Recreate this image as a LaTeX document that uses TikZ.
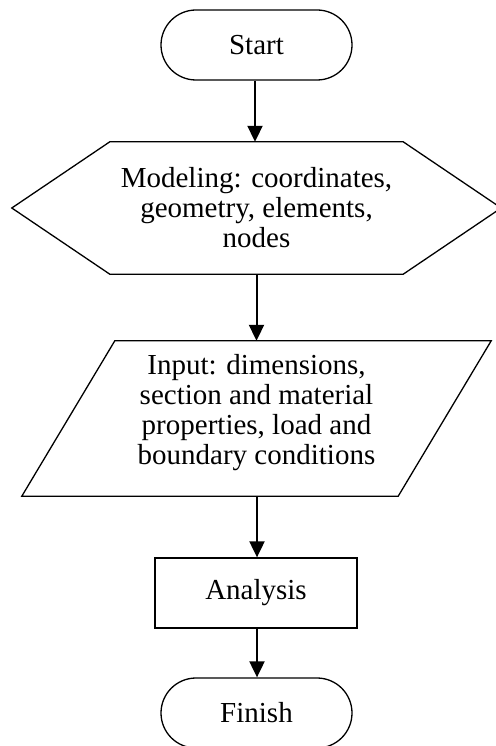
\documentclass[tikz,border=0pt]{standalone}
\usepackage{fontspec}
\setmainfont{Liberation Serif}
\usetikzlibrary{shapes.misc,arrows.meta}
\begin{document}
\begin{tikzpicture}[x=1pt,y=-1pt,
  every node/.style={font=\fontsize{29}{30}\selectfont, align=center, inner sep=0pt},
  shapeline/.style={line width=1.3pt},
  term/.style={rounded rectangle, draw, shapeline, minimum width=191pt, minimum height=70pt},
  procbox/.style={rectangle, draw, shapeline, minimum width=202pt, minimum height=70pt},
  frame/.style={draw=none, rectangle},
  flow/.style={line width=2pt, -{Triangle[length=16pt,width=15pt]}}
]
\useasboundingbox (0,0) rectangle (495,746);

% Start
\node[term] (start) at (256.5,45) {Start};

% Modeling (hexagon)
\node[frame, minimum width=489pt, minimum height=132pt] (model) at (256.5,208)
  {Modeling: coordinates,\\geometry, elements,\\nodes};
\draw[shapeline, line join=miter] (model.west) -- ([xshift=98pt]model.north west)
  -- ([xshift=-98pt]model.north east) -- (model.east)
  -- ([xshift=-98pt]model.south east) -- ([xshift=98pt]model.south west) -- cycle;

% Input (parallelogram)
\node[frame, minimum width=469pt, minimum height=155pt] (input) at (256.5,418.5) {};
\draw[shapeline, line join=miter] ([xshift=93pt]input.north west) -- (input.north east)
  -- ([xshift=-93pt]input.south east) -- (input.south west) -- cycle;
\node (inputtext) at (256.5,413)
  {Input: dimensions,\\section and material\\properties, load and\\boundary conditions};

% Analysis
\node[procbox] (analysis) at (256,593) {Analysis};

% Finish
\node[term] (finish) at (256.5,713) {Finish};

% Connectors
\draw[flow] (start.south -| 255,0) -- (model.north -| 255,0);
\draw[flow] (model.south -| 256.5,0) -- (input.north -| 256.5,0);
\draw[flow] (input.south -| 257,0) -- (analysis.north -| 257,0);
\draw[flow] (analysis.south -| 257,0) -- (finish.north -| 257,0);
\end{tikzpicture}
\end{document}
